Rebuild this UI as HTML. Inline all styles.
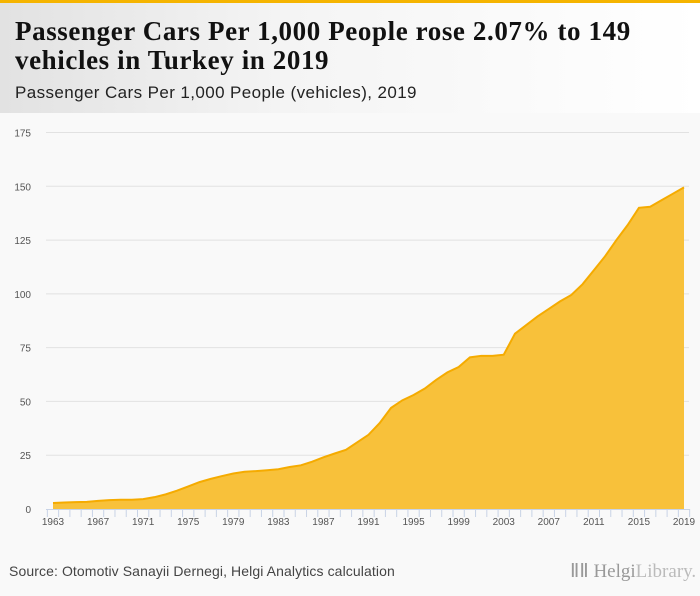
<!DOCTYPE html>
<html><head><meta charset="utf-8"><style>
body{margin:0;width:700px;height:596px;background:#f9f9f9;font-family:"Liberation Sans",sans-serif;overflow:hidden;position:relative}
#topbar{position:absolute;left:0;top:0;width:700px;height:3px;background:#f5b400}
#header{position:absolute;left:0;top:3px;width:700px;height:110px;background:linear-gradient(90deg,#e2e2e2 0%,#f4f4f4 40%,#ffffff 100%)}
#title{position:absolute;left:15px;top:14px;font-family:"Liberation Serif",serif;font-weight:bold;font-size:27px;line-height:29px;color:#111;letter-spacing:0.6px;white-space:nowrap}
#subtitle{position:absolute;left:15px;top:80px;font-size:17px;color:#222;letter-spacing:0.4px}
#source{position:absolute;left:9px;top:563px;font-size:14px;color:#444;letter-spacing:0.1px}
#logo{position:absolute;left:570px;top:560px;font-family:"Liberation Serif",serif;font-size:19px;color:#999}
svg{position:absolute;left:0;top:0}
</style></head><body>
<div id="topbar"></div>
<div id="header">
<div id="title">Passenger Cars Per 1,000 People rose 2.07% to 149<br>vehicles in Turkey in 2019</div>
<div id="subtitle">Passenger Cars Per 1,000 People (vehicles), 2019</div>
</div>
<svg id="chart" width="700" height="596"></svg>
<div id="source">Source: Otomotiv Sanayii Dernegi, Helgi Analytics calculation</div>
<div id="logo">&#x2161;&#x2161; Helgi<span style="font-weight:normal;color:#bbb">Library.</span></div>
<script>
const years=[1963,1964,1965,1966,1967,1968,1969,1970,1971,1972,1973,1974,1975,1976,1977,1978,1979,1980,1981,1982,1983,1984,1985,1986,1987,1988,1989,1990,1991,1992,1993,1994,1995,1996,1997,1998,1999,2000,2001,2002,2003,2004,2005,2006,2007,2008,2009,2010,2011,2012,2013,2014,2015,2016,2017,2018,2019];
const values=[2.8,3,3.2,3.3,3.8,4.1,4.3,4.3,4.6,5.5,6.8,8.5,10.5,12.5,14,15.3,16.5,17.3,17.6,18,18.5,19.5,20.3,22,24,25.8,27.5,31,34.5,40,47,50.5,53,56,60,63.5,66,70.5,71.2,71.2,71.7,81.5,85.5,89.5,93,96.5,99.5,104.5,111,117.5,125,132,140,140.5,143.5,146.5,149.5];
const yTicks=[0,25,50,75,100,125,150,175];
const xLabelYears=[1963,1967,1971,1975,1979,1983,1987,1991,1995,1999,2003,2007,2011,2015,2019];
const svg=document.getElementById('chart');
const NS='http://www.w3.org/2000/svg';
const x0=53,x1=684,y0=509,y1=132.5;
const x=i=>x0+(x1-x0)*i/(years.length-1);
const y=v=>y0-(y0-y1)*v/175;
const step=(x1-x0)/(years.length-1);
function mk(t,a){const e=document.createElementNS(NS,t);for(const k in a)e.setAttribute(k,a[k]);svg.appendChild(e);return e;}
yTicks.forEach(t=>{
 if(t>0){const g=mk('line',{x1:46,x2:689,y1:y(t),y2:y(t),stroke:'#e2e2e2','stroke-width':1});
 
 }
 const l=mk('text',{x:31,y:y(t)+4,'text-anchor':'end','font-size':10,fill:'#555','font-family':'Liberation Sans, sans-serif'});
 l.textContent=t;
 
 
});
let d='M'+x(0)+','+y0;
values.forEach((v,i)=>{d+=' L'+x(i)+','+y(v);});
d+=' L'+x(values.length-1)+','+y0+' Z';
const area=mk('path',{d:d,fill:'#f8c13a'});


let ld='';
values.forEach((v,i)=>{ld+=(i?' L':'M')+x(i)+','+y(v);});
const line=mk('path',{d:ld,fill:'none',stroke:'#f5ab00','stroke-width':2});


const ax=mk('line',{x1:46,x2:690,y1:y0+0.5,y2:y0+0.5,stroke:'#c8d3e6','stroke-width':1});


for(let i=0;i<=years.length;i++){
 const tx=x0-step/2+i*step;
 const t=mk('line',{x1:tx,x2:tx,y1:y0,y2:y0+8,stroke:'#c8d3e6','stroke-width':1});
 
 
}
xLabelYears.forEach(yr=>{
 const i=years.indexOf(yr);
 const l=mk('text',{x:x(i),y:y0+16,'text-anchor':'middle','font-size':10,fill:'#555','font-family':'Liberation Sans, sans-serif'});
 l.textContent=yr;
 
 
});
</script>
</body></html>
